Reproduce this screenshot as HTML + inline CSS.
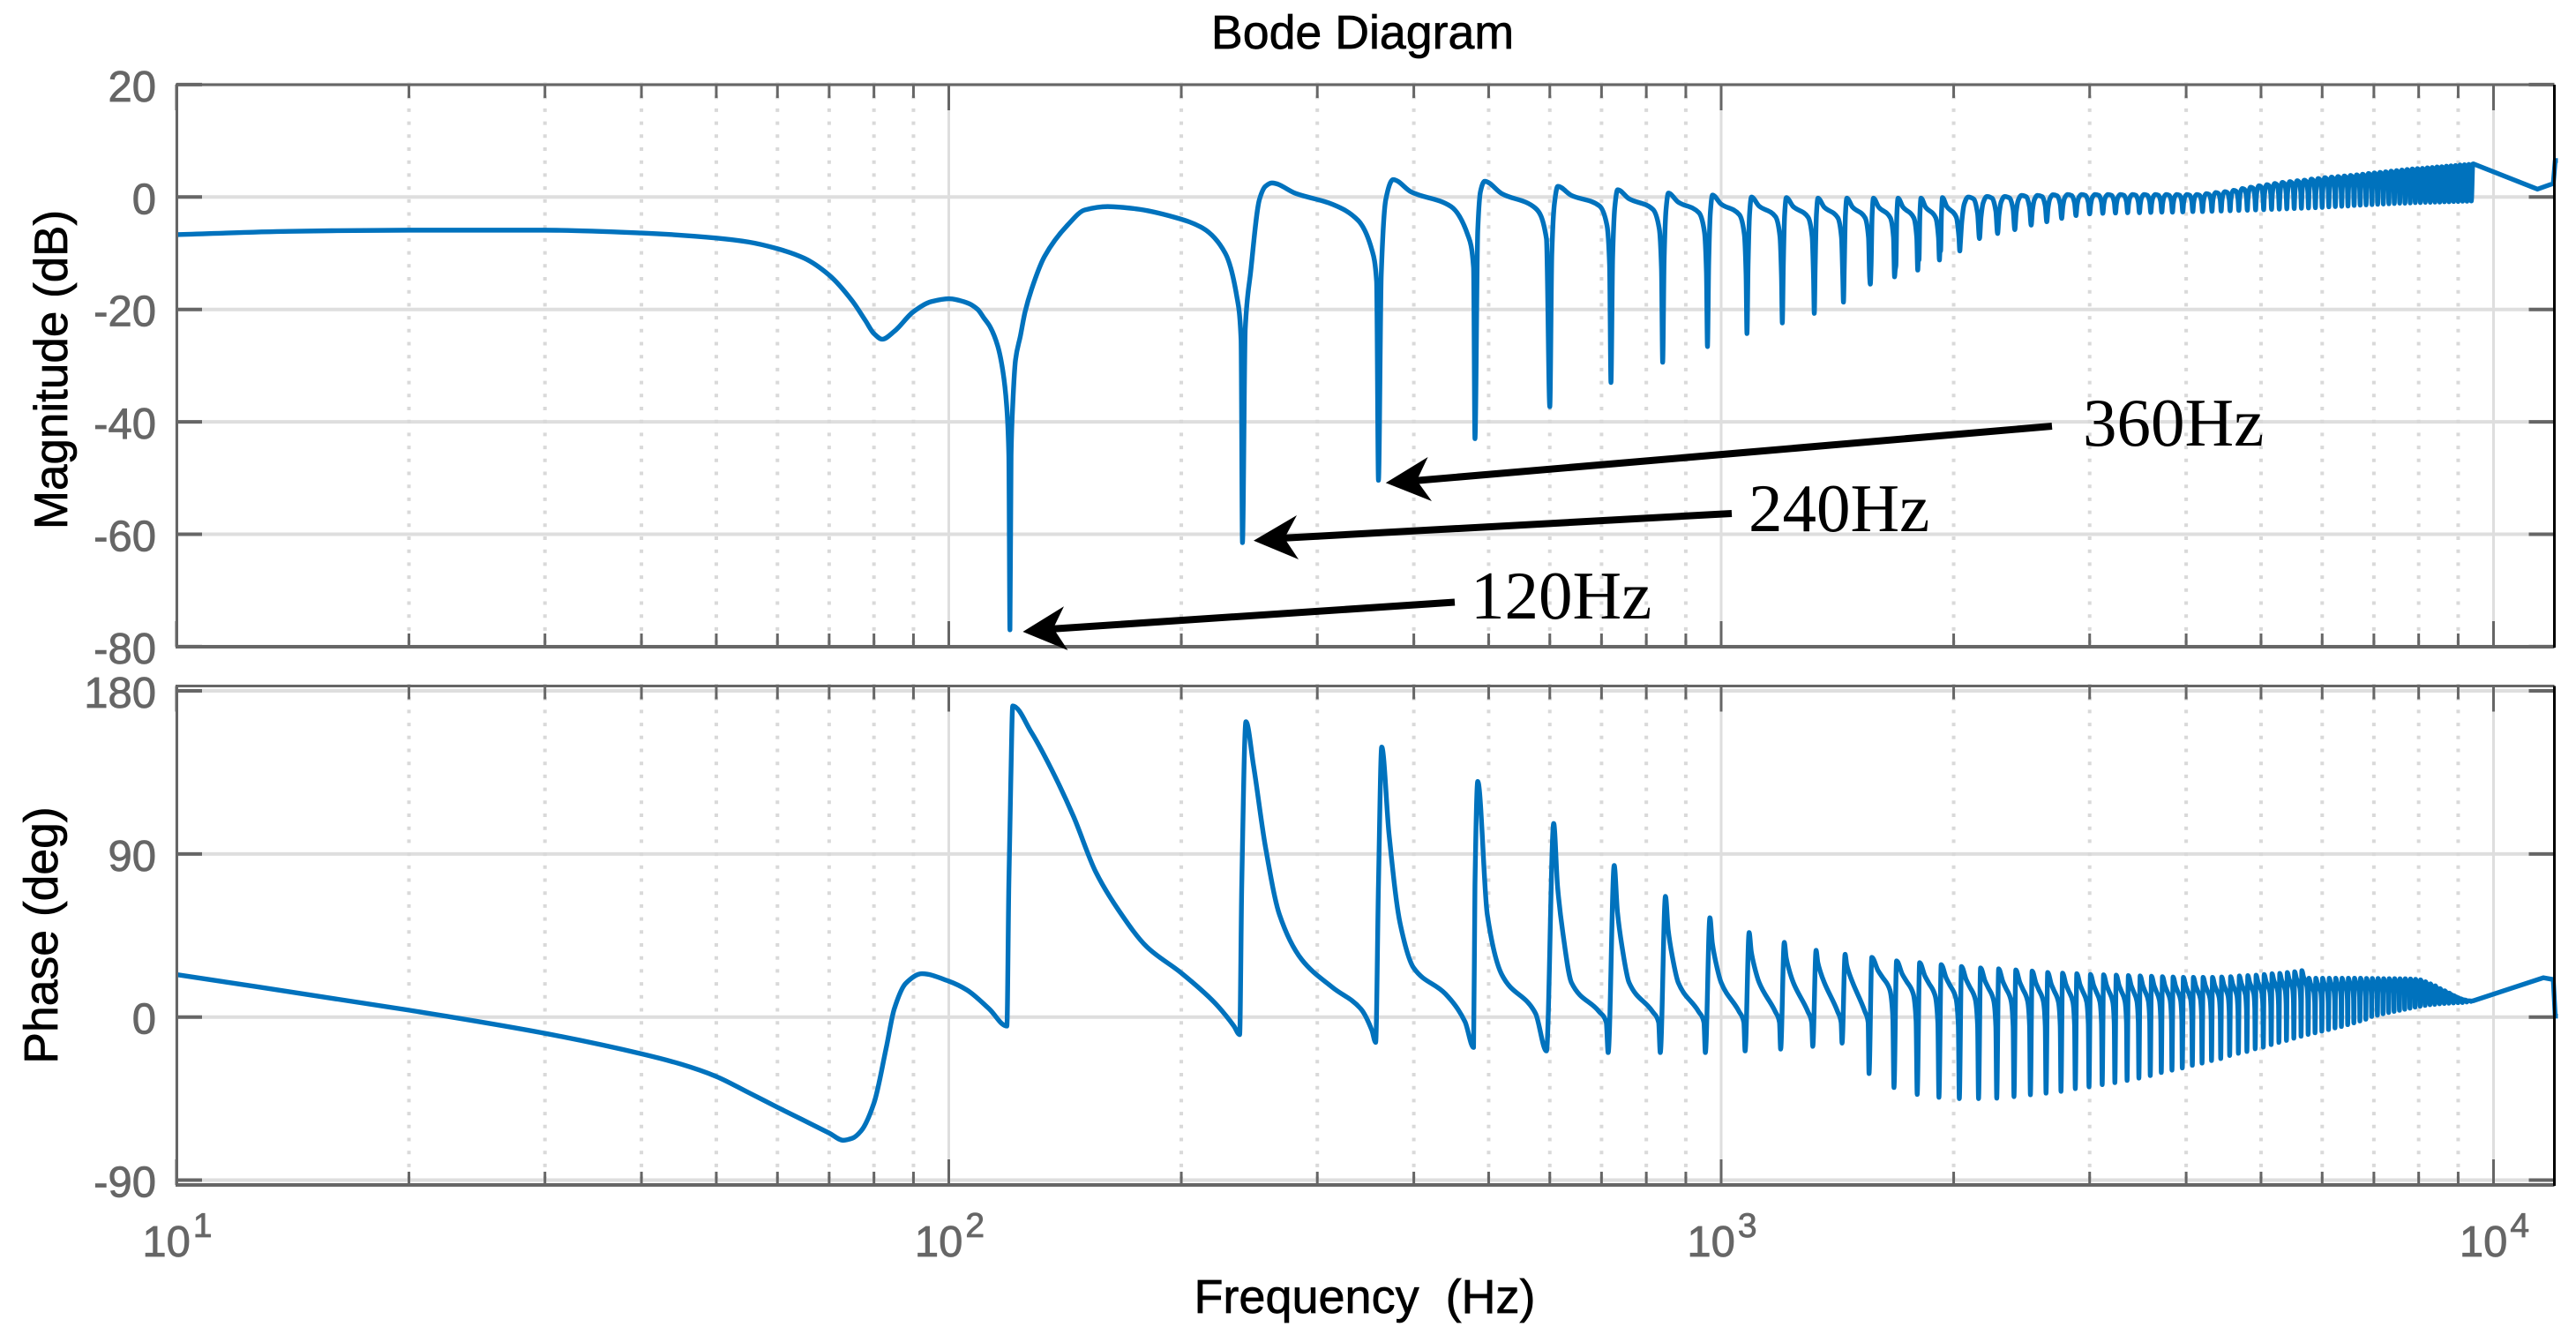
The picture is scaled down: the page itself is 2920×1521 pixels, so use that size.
<!DOCTYPE html>
<html lang="en">
<head>
<meta charset="utf-8">
<title>Bode Diagram</title>
<style>
html,body{margin:0;padding:0;background:#fff;}
svg{display:block;font-family:"Liberation Sans",Arial,sans-serif;}
</style>
</head>
<body>
<svg id="chart" xmlns="http://www.w3.org/2000/svg" width="2920" height="1521" viewBox="0 0 2920 1521">
  <rect width="2920" height="1521" fill="#fff"/>
  <g id="grid"></g>
  <g id="curves"></g>
  <g id="axes"></g>
  <text x="1544.5" y="55" font-size="53.7" text-anchor="middle" fill="#000" stroke="#000" stroke-width="0.7">Bode Diagram</text>
  <text transform="translate(76 419) rotate(-90)" font-size="53" text-anchor="middle" fill="#000" stroke="#000" stroke-width="0.7">Magnitude (dB)</text>
  <text transform="translate(65 1060) rotate(-90)" font-size="53.5" text-anchor="middle" fill="#000" stroke="#000" stroke-width="0.7">Phase (deg)</text>
  <text x="1547" y="1488" font-size="54" text-anchor="middle" fill="#000" stroke="#000" stroke-width="0.7" style="white-space:pre">Frequency  (Hz)</text>

  <g>
    <line x1="1649" y1="682.5" x2="1190" y2="713" stroke="#000" stroke-width="8"/>
    <polygon points="1159.4,716 1206,687.3 1194,712 1210.5,737" fill="#000"/>
    <text x="1667" y="701" font-size="77" fill="#000" style="font-family:'Liberation Serif',serif">120Hz</text>
  </g>
  <g>
    <line x1="1963" y1="582" x2="1452" y2="610" stroke="#000" stroke-width="8"/>
    <polygon points="1421,612.7 1470,584 1456,610 1472,634" fill="#000"/>
    <text x="1982" y="602" font-size="77" fill="#000" style="font-family:'Liberation Serif',serif">240Hz</text>
  </g>
  <g>
    <line x1="2326" y1="483" x2="1602" y2="545" stroke="#000" stroke-width="8"/>
    <polygon points="1570.8,547.3 1618.6,518 1606,544.5 1623,568" fill="#000"/>
    <text x="2361" y="505" font-size="77" fill="#000" style="font-family:'Liberation Serif',serif">360Hz</text>
  </g>
</svg>
<script>
/* ---- tick labels ---- */
const magTicks = [20, 0, -20, -40, -60, -80];
const phaseTicks = [180, 90, 0, -90];
const decadeTicks = [10, 100, 1000, 10000];
const decadeExponents = ["1", "2", "3", "4"];
const minorTicks = [20,30,40,50,60,70,80,90,200,300,400,500,600,700,800,900,2000,3000,4000,5000,6000,7000,8000,9000];

/* ---- magnitude, below the dense harmonic region ---- */
const lowMagHz = [10,14,20,30,40,50,55,60,65,70,75,78,80,82,85,90,95,100,105.5,109,111,113,115.7,117.5,118.8,119.6,120,120.4,121,122,123.8,125.5,128,133,142.7,150,160.6,174.6,196,213,228,236,239,240,242,246,252.5,257,262,281.7,314,339,353,358,360,363,368,376,397,447,470,478,480,484,488,494,520,575,594];
const lowMagDb = [-6.7,-6.1,-5.9,-5.9,-6.4,-7.3,-8,-9.2,-10.9,-13.9,-18.5,-22,-24.3,-25.3,-23.9,-20.4,-18.6,-18.1,-18.8,-20,-21.5,-23,-26.5,-31,-37,-46,-77,-46,-37,-29,-24.7,-20.5,-16.4,-10.6,-4.9,-2.3,-1.7,-2.1,-3.6,-5.5,-10,-17.7,-25.4,-61.5,-23.5,-13.2,-0.4,1.9,2.5,0.6,-1.3,-4.2,-9.4,-15,-50.4,-13.8,-0.4,3.1,0.9,-1.7,-6.8,-12.6,-43,-6,1,2.8,0.6,-2,-7.4];

/* ---- phase, below the dense harmonic region ---- */
const lowPhaseHz = [10,20,30,40,45,50,55,60,70,73,75,77,80,83,85,88,92.3,100,105.5,112.8,118.9,119.6,120.3,121,128,135.7,145,155,166,180.5,199.6,220.8,234,238,239.5,242.5,248,257,268,286.4,314,341.6,353,357,360,363.5,371.5,384,400,439.5,466,478,480,484,498,520,575];
const lowPhaseDeg = [23.4,3.8,-9,-20.3,-26,-32.8,-41.6,-49.8,-64,-68,-66.9,-62.8,-47.5,-16.8,4.5,18.7,23.9,19.8,15,4.5,-5,73,130,171.7,156.9,137,110.8,80,58.8,38.7,24.6,8,-5,-9.7,73,163,139,94,56.5,31.7,16.3,4.5,-7.3,-14,73,149,101,51.7,27,12.8,-2.6,-16.8,73,130,56.5,23.4,2];

/* ---- per-harmonic readings, 600 Hz upward ---- */
const harmonicHz = [600,720,840,960,1080,1200,1320,1440,1560,1680,1800,1920,2040,2160,2280,2400,2520,2640,2760,2880,3000,3120,3240,3360,3480,3600,3720,3840,3960,4080,4200,4320,4440,4560,4680,4800,4920,5040,5160,5280,5400,5520,5640,5760,5880,6000,6120,6240,6360,6480,6600,6720,6840,6960,7080,7200,7320,7440,7560,7680,7800,7920,8040,8160,8280,8400,8520,8640,8760,8880,9000,9120,9240,9360];
const notchDb = [-37.3,-33,-29.4,-26.6,-24.3,-22.4,-20.7,-18.7,-15.5,-13,-11.2,-9.6,-8.4,-7.4,-6.5,-5.8,-5,-4.4,-3.8,-3.3,-3,-2.9,-2.85,-2.8,-2.8,-2.75,-2.7,-2.7,-2.65,-2.6,-2.6,-2.55,-2.5,-2.45,-2.4,-2.35,-2.3,-2.25,-2.2,-2.15,-2.1,-2.05,-2,-1.95,-1.9,-1.85,-1.75,-1.7,-1.65,-1.6,-1.5,-1.45,-1.4,-1.35,-1.3,-1.25,-1.2,-1.15,-1.1,-1.1,-1.05,-1,-1,-0.95,-0.95,-0.9,-0.9,-0.85,-0.85,-0.8,-0.8,-0.75,-0.75,-0.7];
const crestDb = [1.9,1.3,0.7,0.35,0,-0.1,-0.2,-0.2,-0.2,-0.2,-0.2,-0.1,0,0.1,0.1,0.3,0.3,0.4,0.45,0.45,0.45,0.45,0.45,0.45,0.45,0.45,0.45,0.45,0.45,0.45,0.6,0.8,0.95,1.2,1.5,1.75,2,2.2,2.4,2.6,2.75,2.9,3,3.2,3.3,3.45,3.55,3.65,3.75,3.85,3.95,4.05,4.2,4.3,4.4,4.5,4.6,4.7,4.8,4.9,5,5.05,5.1,5.2,5.25,5.35,5.4,5.5,5.55,5.6,5.7,5.75,5.8,5.85];
const troughDeg = [-18.7,-19.6,-19.6,-19.6,-18.7,-17.7,-16.2,-14.4,-31.2,-38.9,-42.7,-44.3,-45,-45,-44.8,-43.9,-42.9,-42,-41,-39.5,-38.5,-37.3,-36.2,-35,-33.7,-32.3,-30.6,-29.3,-28.1,-26.6,-25.4,-24,-22.9,-21.2,-20,-19,-17.5,-16.6,-15.2,-14,-12.9,-11.7,-10.6,-9.6,-8.7,-7.8,-6.9,-6,-5.2,-4.2,-3.2,-2.2,-1.2,0.3,1,1.8,2.5,3.1,3.7,4.3,4.9,5.5,6,6.4,6.8,7,7.3,7.5,7.6,7.8,7.9,8,8.3,8.6];
const crestDeg = [106.8,83.6,66.6,54.8,46.6,41.2,36.8,34.6,32.9,31,30,28.9,27.9,27.1,26.6,26,25.4,24.6,24.2,23.9,23.5,23.3,23.1,22.9,22.7,22.5,22.3,22.1,21.9,21.9,21.9,21.9,22.1,22.3,22.7,22.9,23.1,23.5,23.9,24.1,24.6,25,25.6,21.4,21.4,21.4,21.4,21.4,21.4,21.4,21.4,21.4,21.3,21.3,21.3,21.2,21.2,21.2,21.1,21.1,21,20.8,20.5,19.5,18.3,17.2,15.7,14.5,13.2,11.8,10.5,9.6,9,8.8];

/* ---- tail after the harmonic band ---- */
const tailHz = [9420,11400,11950,12020,12115];
const tailMagDb = [5.9,1.4,2.4,6.5,6.5];
const tailPhaseHz = [9420,11600,11950,12020,12115];
const tailPhaseDeg = [9,21.7,20.7,0.5,0.5];

/* ---- axis functions ---- */
const xLeft = 200, xRight = 2895.5, decadePx = 875.5;
const magTop = 96, magBottom = 733, phaseTop = 777.5, phaseBottom = 1343;
function xAt(hz){ return xLeft + decadePx * (Math.log10(hz) - 1); }
function yMag(db){ return 223.3 - db * 6.37; }
function yPhase(deg){ return 1152.7 - deg * 2.054; }

const NS = "http://www.w3.org/2000/svg";
const gridLayer = document.getElementById("grid");
const curveLayer = document.getElementById("curves");
const axesLayer = document.getElementById("axes");

function shape(tag, parent, props, text){
  const node = document.createElementNS(NS, tag);
  for (const k in props) node.setAttribute(k, props[k]);
  if (text !== undefined) node.textContent = text;
  parent.appendChild(node);
  return node;
}

const panels = [
  {id: "magnitude", top: magTop, bottom: magBottom, ticks: magTicks, y: yMag},
  {id: "phase", top: phaseTop, bottom: phaseBottom, ticks: phaseTicks, y: yPhase}
];

panels.forEach(function(p){
  p.ticks.forEach(function(v){
    const gl = shape("line", gridLayer, {x1: xLeft, x2: xRight, y1: p.y(v), y2: p.y(v), stroke: "#dedede", "stroke-width": 4});
    
    

    const tl = shape("line", axesLayer, {x1: xLeft, x2: xLeft + 29, y1: p.y(v), y2: p.y(v), stroke: "#666", "stroke-width": 4});
    
    

    const tr = shape("line", axesLayer, {x1: xRight - 29, x2: xRight, y1: p.y(v), y2: p.y(v), stroke: "#666", "stroke-width": 4});
    
    

    const lb = shape("text", axesLayer, {x: 177, y: p.y(v) + 19, "font-size": 49, "text-anchor": "end", fill: "#666", stroke: "#666", "stroke-width": 0.8}, String(v));
    
    
  });

  decadeTicks.forEach(function(hz){
    const gl = shape("line", gridLayer, {x1: xAt(hz), x2: xAt(hz), y1: p.top, y2: p.bottom, stroke: "#dedede", "stroke-width": 3});
    
    
    [[p.top, p.top + 29], [p.bottom - 29, p.bottom]].forEach(function(s){
      const t = shape("line", axesLayer, {x1: xAt(hz), x2: xAt(hz), y1: s[0], y2: s[1], stroke: "#666", "stroke-width": 3});
      
      
    });
  });

  minorTicks.forEach(function(hz){
    const gl = shape("line", gridLayer, {x1: xAt(hz), x2: xAt(hz), y1: p.top - 2.5, y2: p.bottom, stroke: "#d9d9d9", "stroke-width": 4, "stroke-dasharray": "4 10.7"});
    
    
    [[p.top, p.top + 15], [p.bottom - 15, p.bottom]].forEach(function(s){
      const t = shape("line", axesLayer, {x1: xAt(hz), x2: xAt(hz), y1: s[0], y2: s[1], stroke: "#666", "stroke-width": 3});
      
      
    });
  });
});

/* monotone cubic path through the read points, then straight tail segments */
function smoothPath(pts, tail, yFn){
  const xs = [], ys = [];
  pts.forEach(function(p){
    const x = xAt(p[0]);
    if (!xs.length || x > xs[xs.length - 1] + 0.01) { xs.push(x); ys.push(yFn(p[1])); }
  });
  const d = [];
  for (let i = 0; i < xs.length - 1; i++) d.push((ys[i + 1] - ys[i]) / (xs[i + 1] - xs[i]));
  const m = [d[0]];
  for (let i = 1; i < xs.length - 1; i++) {
    if (d[i - 1] * d[i] <= 0) { m.push(0); }
    else {
      const a = xs[i] - xs[i - 1], b = xs[i + 1] - xs[i];
      m.push(3 * (a + b) / ((2 * b + a) / d[i - 1] + (b + 2 * a) / d[i]));
    }
  }
  m.push(d[d.length - 1]);
  let out = "M" + xs[0].toFixed(1) + " " + ys[0].toFixed(1);
  for (let i = 0; i < xs.length - 1; i++) {
    const h = (xs[i + 1] - xs[i]) / 3;
    out += "C" + (xs[i] + h).toFixed(2) + " " + (ys[i] + m[i] * h).toFixed(2) + " " + (xs[i + 1] - h).toFixed(2) + " " + (ys[i + 1] - m[i + 1] * h).toFixed(2) + " " + xs[i + 1].toFixed(2) + " " + ys[i + 1].toFixed(2);
  }
  tail.forEach(function(p){
    out += "L" + xAt(p[0]).toFixed(2) + " " + yFn(p[1]).toFixed(2);
  });
  return out;
}

/* ---- magnitude curve ---- */
function magnitudePoints(){
  const pts = [];
  lowMagHz.forEach(function(hz, i){ pts.push([hz, lowMagDb[i]]); });
  harmonicHz.forEach(function(hz, i){
    const n = notchDb[i], c = crestDb[i];
    pts.push([hz, n]);
    if (i === harmonicHz.length - 1) {
      pts.push([hz + 36, c]);
    } else if (hz < 2000) {
      [[0.03,12],[0.07,3],[0.12,0],[0.33,1.6],[0.8,3.5],[0.93,7],[0.975,14]].forEach(function(s){
        pts.push([hz + 120 * s[0], Math.max(n, c - s[1])]);
      });
    } else {
      const next = notchDb[i + 1];
      [[0.08,0.5],[0.2,0.85],[0.4,1],[0.7,0.95],[0.9,0.6]].forEach(function(s){
        pts.push([hz + 120 * s[0], (s[0] < 0.5 ? n : next) + (c - (s[0] < 0.5 ? n : next)) * s[1]]);
      });
    }
  });
  return pts;
}

/* ---- phase curve ---- */
function phasePoints(){
  const pts = [];
  lowPhaseHz.forEach(function(hz, i){ pts.push([hz, lowPhaseDeg[i]]); });
  harmonicHz.forEach(function(hz, i){
    const tr = troughDeg[i], c = crestDeg[i];
    pts.push([hz - 6, tr]);
    pts.push([hz + 7, c]);
    if (i === harmonicHz.length - 1) return;
    const nextT = troughDeg[i + 1];
    if (hz < 1500) {
      pts.push([hz + 14, c * 0.6 + 8]);
      pts.push([hz + 24, c * 0.3 + 14]);
      pts.push([hz + 40, 19]);
      pts.push([hz + 95, 3]);
      pts.push([hz + 110, -3]);
    } else {
      [[0.3,0.9],[0.47,0.85],[0.78,0.75],[0.9,0.55]].forEach(function(s){
        pts.push([hz + 120 * s[0], nextT + (c - nextT) * s[1]]);
      });
    }
  });
  return pts;
}

const magTail = tailHz.map(function(hz, i){ return [hz, tailMagDb[i]]; });
const phaseTail = tailPhaseHz.map(function(hz, i){ return [hz, tailPhaseDeg[i]]; });

const magLine = shape("path", curveLayer, {d: smoothPath(magnitudePoints(), magTail, yMag), fill: "none", stroke: "#0072bd", "stroke-width": 5.4, "stroke-linejoin": "round"});



const phaseLine = shape("path", curveLayer, {d: smoothPath(phasePoints(), phaseTail, yPhase), fill: "none", stroke: "#0072bd", "stroke-width": 5.4, "stroke-linejoin": "round"});



/* ---- frames and x tick labels ---- */
panels.forEach(function(p){
  const lf = shape("line", axesLayer, {x1: xLeft + 0.5, x2: xLeft + 0.5, y1: p.top, y2: p.bottom, stroke: "#666", "stroke-width": 3});
  
  

  const tf = shape("line", axesLayer, {x1: xLeft - 1, x2: xRight, y1: p.top, y2: p.top, stroke: "#666", "stroke-width": 3});
  
  

  const bf = shape("line", axesLayer, {x1: xLeft - 1, x2: xRight, y1: p.bottom, y2: p.bottom, stroke: "#666", "stroke-width": 4});
  
  

  const rf = shape("line", axesLayer, {x1: xRight, x2: xRight, y1: p.top, y2: p.bottom + 1, stroke: "#000", "stroke-width": 3});
  
  
});

decadeTicks.forEach(function(hz, i){
  const lb = shape("text", axesLayer, {x: xAt(hz) + 1, y: 1424, "font-size": 49, "text-anchor": "middle", fill: "#666", stroke: "#666", "stroke-width": 0.8}, "10");
  
  
  const sup = document.createElementNS(NS, "tspan");
  sup.setAttribute("dy", "-22");
  sup.setAttribute("dx", "3");
  sup.setAttribute("font-size", "39");
  sup.textContent = decadeExponents[i];
  lb.appendChild(sup);
});
</script>
</body>
</html>
